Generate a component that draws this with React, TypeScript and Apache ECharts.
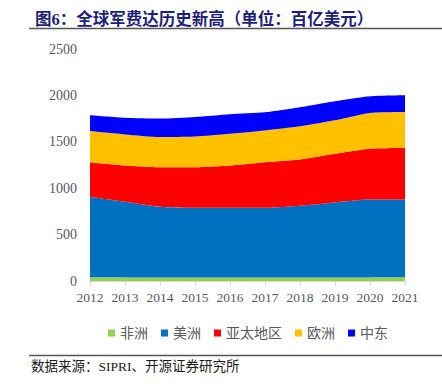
import React, { useEffect, useRef } from "react";
import * as echarts from "echarts";

const years = ["2012", "2013", "2014", "2015", "2016", "2017", "2018", "2019", "2020", "2021"];
const africa = [40, 39, 38, 38, 37, 37, 37, 38, 39, 40];
const americas = [869, 816, 763, 752, 753, 753, 775, 809, 838, 837];
const asiaPacific = [371, 390, 425, 436, 455, 490, 498, 524, 548, 555];
const europe = [336, 335, 325, 332, 343, 343, 357, 361, 386, 389];
const middleEast = [170, 179, 199, 209, 209, 195, 205, 205, 180, 181];

const seriesNames = ["非洲", "美洲", "亚太地区", "欧洲", "中东"];
const seriesData = [africa, americas, asiaPacific, europe, middleEast];
const seriesColors = ["#92D050", "#0070C0", "#FF0000", "#FFC000", "#0000FF"];

const serif = "'Liberation Serif', 'Times New Roman', serif";
const cjk = "'Liberation Serif', 'Noto Sans CJK SC', serif";

export default function App() {
  const ref = useRef<HTMLDivElement>(null);
  useEffect(() => {
    if (!ref.current) return;
    const chart = echarts.init(ref.current, null, { renderer: "svg" });
    chart.setOption({
      animation: false,
      backgroundColor: "#ffffff",
      title: {
        text: "图6：全球军费达历史新高（单位：百亿美元）",
        left: 30,
        top: 6,
        textStyle: {
          fontSize: 16.5,
          fontWeight: "bold",
          color: "#1F1F7A",
          fontFamily: cjk,
        },
      },
      legend: {
        left: 103,
        top: 321,
        itemWidth: 7,
        itemHeight: 7,
        itemGap: 13,
        icon: "rect",
        textStyle: { fontSize: 14, color: "#595959", fontFamily: cjk },
        data: seriesNames,
      },
      grid: { left: 90, right: 37, top: 49, bottom: 106, containLabel: false },
      xAxis: {
        type: "category",
        data: years,
        boundaryGap: false,
        axisLine: { lineStyle: { color: "#D9D9D9" } },
        axisTick: { show: true, length: 5, interval: 0, lineStyle: { color: "#D9D9D9" } },
        axisLabel: { interval: 0, fontSize: 13.5, color: "#595959", fontFamily: serif, margin: 9 },
      },
      yAxis: {
        type: "value",
        min: 0,
        max: 2500,
        interval: 500,
        axisLine: { show: false },
        axisTick: { show: false },
        splitLine: { show: false },
        axisLabel: {
          fontSize: 14,
          color: "#595959",
          fontFamily: serif,
          margin: 13,
          formatter: (v: number) => String(v),
        },
      },
      series: seriesNames.map((name, i) => ({
        name,
        type: "line",
        stack: "total",
        data: seriesData[i],
        smooth: 0.2,
        showSymbol: false,
        symbol: "none",
        lineStyle: { width: 0 },
        areaStyle: { color: seriesColors[i], opacity: 1 },
        itemStyle: { color: seriesColors[i] },
      })),
      graphic: [
        {
          type: "line",
          shape: { x1: 29, y1: 28.5, x2: 442, y2: 28.5 },
          style: { stroke: "#555555", lineWidth: 1.5 },
        },
        {
          type: "line",
          shape: { x1: 29, y1: 355.5, x2: 442, y2: 355.5 },
          style: { stroke: "#555555", lineWidth: 1.5 },
        },
        {
          type: "text",
          left: 31,
          top: 360,
          style: {
            text: "数据来源：SIPRI、开源证券研究所",
            fontSize: 13.5,
            fill: "#1a1a1a",
            fontFamily: cjk,
          },
        },
      ],
    });
    return () => chart.dispose();
  }, []);
  return <div ref={ref} style={{ width: 442, height: 387, position: "absolute", left: 0, top: 0 }} />;
}
